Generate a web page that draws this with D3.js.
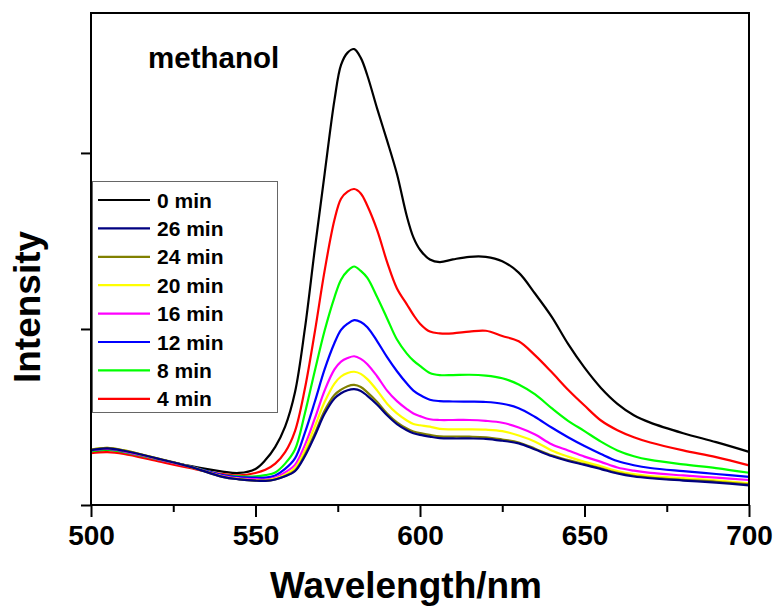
<!DOCTYPE html>
<html>
<head>
<meta charset="utf-8">
<script src="https://cdn.jsdelivr.net/npm/d3@7"></script>
<style>
  body { margin: 0; background: #fff; }
  text { font-family: "Liberation Sans", Arial, sans-serif; font-weight: bold; }
</style>
</head>
<body>
<div id="chart"></div>
<script>
// Wavelength grid (nm)
const wavelengths = [500,505,510,520,530,540,545,550,553,556,559,562,565,568,571,574,576,578,580,582,584,587,590,593,596,598,600,603,606,610,615,620,625,630,635,640,645,650,655,660,665,670,680,690,700];

// Intensity (arbitrary units) per series
const min0  = [0.300,0.315,0.300,0.262,0.222,0.190,0.182,0.205,0.255,0.330,0.445,0.640,1.000,1.450,1.880,2.300,2.500,2.570,2.590,2.540,2.440,2.250,2.070,1.880,1.640,1.520,1.450,1.395,1.380,1.395,1.410,1.410,1.385,1.320,1.200,1.070,0.915,0.780,0.665,0.575,0.510,0.468,0.408,0.357,0.302];
const min4  = [0.295,0.300,0.290,0.250,0.210,0.175,0.168,0.182,0.200,0.235,0.300,0.420,0.660,0.980,1.330,1.620,1.740,1.780,1.795,1.770,1.700,1.560,1.380,1.230,1.140,1.080,1.030,0.985,0.975,0.975,0.985,0.990,0.960,0.930,0.850,0.755,0.655,0.565,0.480,0.425,0.385,0.355,0.310,0.272,0.225];
const min8  = [0.305,0.315,0.300,0.260,0.220,0.170,0.163,0.163,0.170,0.185,0.235,0.315,0.520,0.760,0.990,1.180,1.280,1.330,1.355,1.330,1.290,1.180,1.060,0.940,0.860,0.820,0.790,0.750,0.738,0.738,0.740,0.735,0.720,0.685,0.628,0.550,0.478,0.420,0.360,0.310,0.277,0.256,0.231,0.210,0.183];
const min12 = [0.310,0.318,0.305,0.262,0.220,0.170,0.158,0.155,0.155,0.168,0.205,0.265,0.410,0.585,0.770,0.920,0.995,1.030,1.050,1.040,1.010,0.930,0.840,0.760,0.690,0.650,0.625,0.598,0.590,0.588,0.587,0.585,0.575,0.550,0.500,0.440,0.385,0.335,0.290,0.250,0.226,0.210,0.192,0.176,0.160];
const min16 = [0.310,0.320,0.305,0.262,0.218,0.165,0.152,0.147,0.145,0.156,0.185,0.228,0.340,0.490,0.650,0.770,0.815,0.835,0.845,0.830,0.800,0.730,0.650,0.590,0.545,0.520,0.505,0.487,0.483,0.483,0.483,0.478,0.467,0.440,0.400,0.345,0.310,0.275,0.245,0.213,0.195,0.182,0.168,0.155,0.142];
const min20 = [0.316,0.325,0.310,0.265,0.218,0.162,0.148,0.140,0.140,0.150,0.172,0.210,0.310,0.445,0.585,0.690,0.730,0.750,0.757,0.745,0.715,0.650,0.575,0.520,0.480,0.460,0.453,0.445,0.432,0.430,0.430,0.428,0.420,0.395,0.360,0.310,0.275,0.245,0.220,0.193,0.175,0.164,0.153,0.140,0.123];
const min24 = [0.315,0.325,0.310,0.265,0.218,0.160,0.146,0.138,0.137,0.145,0.165,0.195,0.285,0.405,0.535,0.625,0.655,0.675,0.682,0.670,0.640,0.585,0.520,0.470,0.435,0.418,0.408,0.398,0.390,0.388,0.388,0.385,0.372,0.355,0.320,0.282,0.255,0.232,0.208,0.183,0.166,0.156,0.143,0.132,0.117];
const min26 = [0.312,0.322,0.308,0.265,0.218,0.160,0.146,0.138,0.137,0.145,0.163,0.192,0.277,0.392,0.518,0.605,0.635,0.652,0.658,0.648,0.620,0.570,0.510,0.460,0.425,0.408,0.398,0.388,0.380,0.378,0.378,0.376,0.365,0.350,0.315,0.278,0.250,0.228,0.204,0.179,0.162,0.152,0.139,0.127,0.112];

// Legend order as in the original
const legendLabels = ["0 min","26 min","24 min","20 min","16 min","12 min","8 min","4 min"];
const legendColors = ["#000000","#000080","#808000","#ffff00","#ff00ff","#0000ff","#00ff00","#ff0000"];

// Series in drawing order
const series = [
  { values: min0,  color: "#000000" },
  { values: min4,  color: "#ff0000" },
  { values: min8,  color: "#00ff00" },
  { values: min12, color: "#0000ff" },
  { values: min16, color: "#ff00ff" },
  { values: min20, color: "#ffff00" },
  { values: min24, color: "#808000" },
  { values: min26, color: "#000080" }
];

const xTicks = [500, 550, 600, 650, 700];
const xMinorTicks = [525, 575, 625, 675];
const yTicks = [0, 1, 2];

const width = 776;
const height = 608;
const plot = { left: 91, right: 749, top: 13, bottom: 505 };

const svg = d3.select('#chart')
    .append('svg')
    .attr('width', width)
    .attr('height', height);

const x = d3.scaleLinear().domain([500, 700]).range([plot.left, plot.right]);
const y = d3.scaleLinear().domain([0, 2.795]).range([plot.bottom, plot.top]);

// curves
const line = d3.line()
    .x((d, i) => x(wavelengths[i]))
    .y(d => y(d))
    .curve(d3.curveCatmullRom.alpha(0.5));

svg.append('g')
    .selectAll('path')
    .data(series)
    .enter()
    .append('path')
    .attr('d', d => line(d.values))
    .attr('fill', 'none')
    .attr('stroke', d => d.color)
    .attr('stroke-width', 2.2);

// frame
svg.append('rect')
    .attr('x', plot.left)
    .attr('y', plot.top)
    .attr('width', plot.right - plot.left)
    .attr('height', plot.bottom - plot.top)
    .attr('fill', 'none')
    .attr('stroke', '#000')
    .attr('stroke-width', 2);

// x axis, major and minor ticks
const xAxis = svg.append('g')
    .attr('transform', `translate(0,${plot.bottom})`)
    .call(d3.axisBottom(x).tickValues(xTicks).tickSize(12).tickPadding(8).tickFormat(d3.format('d')));
xAxis.select('.domain').remove();
xAxis.selectAll('line').attr('stroke-width', 2);
xAxis.selectAll('text')
    .attr('font-size', 28)
    .attr('fill', '#000');

const xMinor = svg.append('g')
    .attr('transform', `translate(0,${plot.bottom})`)
    .call(d3.axisBottom(x).tickValues(xMinorTicks).tickSize(7).tickFormat(''));
xMinor.select('.domain').remove();
xMinor.selectAll('line').attr('stroke-width', 2);

// y axis, ticks only
const yAxis = svg.append('g')
    .attr('transform', `translate(${plot.left},0)`)
    .call(d3.axisLeft(y).tickValues(yTicks).tickSize(10).tickFormat(''));
yAxis.select('.domain').remove();
yAxis.selectAll('line').attr('stroke-width', 2);

// axis titles
svg.append('text')
    .attr('x', 406)
    .attr('y', 598)
    .attr('text-anchor', 'middle')
    .attr('font-size', 37)
    .text('Wavelength/nm');

svg.append('text')
    .attr('transform', 'translate(40,307) rotate(-90)')
    .attr('text-anchor', 'middle')
    .attr('font-size', 37)
    .text('Intensity');

// annotation
svg.append('text')
    .attr('x', 148)
    .attr('y', 68)
    .attr('font-size', 29.5)
    .text('methanol');

// legend
const legend = svg.append('g');
legend.append('rect')
    .attr('x', 92.5)
    .attr('y', 181.5)
    .attr('width', 185)
    .attr('height', 231)
    .attr('fill', '#fff')
    .attr('stroke', '#666')
    .attr('stroke-width', 1);

const rows = legend.selectAll('g.row')
    .data(legendLabels)
    .enter()
    .append('g')
    .attr('class', 'row')
    .attr('transform', (d, i) => `translate(0,${200 + i * 28.4})`);

rows.append('line')
    .attr('x1', 98)
    .attr('x2', 150)
    .attr('stroke', (d, i) => legendColors[i])
    .attr('stroke-width', 2.2);

rows.append('text')
    .attr('x', 157)
    .attr('dy', '0.36em')
    .attr('font-size', 21)
    .text(d => d);
</script>
</body>
</html>
